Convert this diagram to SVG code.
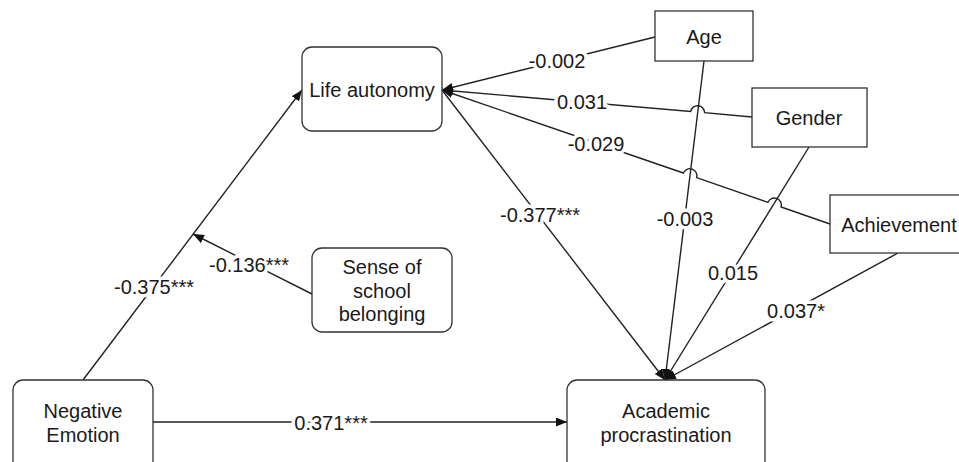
<svg xmlns="http://www.w3.org/2000/svg" width="959" height="462" viewBox="0 0 959 462">
<style>
.box{fill:#fff;stroke:#333;stroke-width:1.3}
.t{font-family:"Liberation Sans",Arial,sans-serif;font-size:20px;fill:#1a1a1a;text-anchor:middle}
.lbl{font-family:"Liberation Sans",Arial,sans-serif;font-size:20px;fill:#1a1a1a;text-anchor:middle;stroke:#fff;stroke-width:7px;paint-order:stroke;stroke-linejoin:round}
.c{fill:none;stroke:#222;stroke-width:1.4}
</style>
<defs>
<marker id="arr" markerUnits="userSpaceOnUse" markerWidth="12" markerHeight="10" refX="11" refY="4.5" orient="auto">
<path d="M0,0 L11,4.5 L0,9 z" fill="#111"/>
</marker>
</defs>
<rect width="959" height="462" fill="#fff"/>
<g id="connectors">
<line class="c" x1="83" y1="380" x2="302" y2="90" marker-end="url(#arr)"/>
<line class="c" x1="312" y1="294" x2="193" y2="234" marker-end="url(#arr)"/>
<line class="c" x1="153" y1="422" x2="567" y2="422" marker-end="url(#arr)"/>
<line class="c" x1="442" y1="90" x2="665" y2="380" marker-end="url(#arr)"/>
<line class="c" x1="655" y1="37" x2="442" y2="90" marker-end="url(#arr)"/>
<path class="c" d="M752,117 L704.6,112.7 A7,7 0 0 0 690.7,111.5 L442,90" marker-end="url(#arr)"/>
<path class="c" d="M830,224 L781.1,207 A7,7 0 0 0 767.9,202.4 L696.6,177.6 A7,7 0 0 0 683.4,173 L442,90" marker-end="url(#arr)"/>
<line class="c" x1="704" y1="61" x2="665" y2="380" marker-end="url(#arr)"/>
<line class="c" x1="809" y1="147" x2="665" y2="380" marker-end="url(#arr)"/>
<line class="c" x1="898" y1="253" x2="665" y2="380" marker-end="url(#arr)"/>
<text class="lbl" x="154" y="294">-0.375***</text>
<text class="lbl" x="249" y="272">-0.136***</text>
<text class="lbl" x="331" y="430">0.371***</text>
<text class="lbl" x="540" y="222">-0.377***</text>
<text class="lbl" x="557" y="68">-0.002</text>
<text class="lbl" x="582" y="109">0.031</text>
<text class="lbl" x="596" y="151">-0.029</text>
<text class="lbl" x="685" y="226">-0.003</text>
<text class="lbl" x="733" y="280">0.015</text>
<text class="lbl" x="796" y="318">0.037*</text>
</g>
<g id="life-autonomy">
<rect class="box" x="302" y="47" width="140" height="84" rx="10"/>
<text class="t" x="372" y="97">Life autonomy</text>
</g>
<g id="age">
<rect class="box" x="655" y="11" width="98" height="50"/>
<text class="t" x="704" y="44">Age</text>
</g>
<g id="gender">
<rect class="box" x="752" y="88" width="115" height="59"/>
<text class="t" x="809" y="125">Gender</text>
</g>
<g id="achievement">
<rect class="box" x="830" y="195" width="135" height="58"/>
<text class="t" x="899" y="232">Achievement</text>
</g>
<g id="sense-of-school-belonging">
<rect class="box" x="312" y="248" width="140" height="84" rx="10"/>
<text class="t" x="382" y="274">Sense of</text>
<text class="t" x="382" y="298">school</text>
<text class="t" x="382" y="321">belonging</text>
</g>
<g id="negative-emotion">
<rect class="box" x="13" y="380" width="140" height="92" rx="10"/>
<text class="t" x="83" y="418">Negative</text>
<text class="t" x="83" y="442">Emotion</text>
</g>
<g id="academic-procrastination">
<rect class="box" x="567" y="380" width="198" height="92" rx="10"/>
<text class="t" x="666" y="418">Academic</text>
<text class="t" x="666" y="442">procrastination</text>
</g>
</svg>
